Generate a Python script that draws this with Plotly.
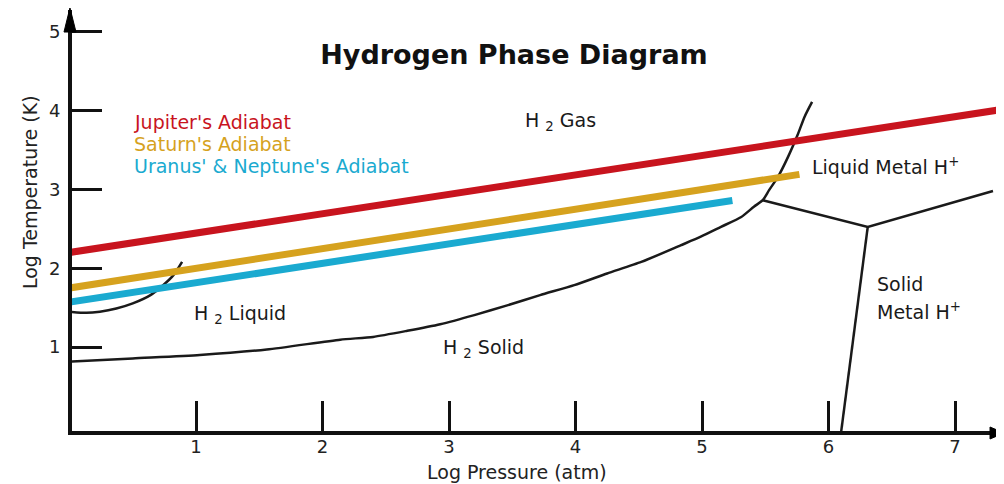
import plotly.graph_objects as go

# ---------------- data ----------------
# Planetary adiabats (log P [atm], log T [K])
jup_x = [0.0, 7.40]
jup_y = [2.20, 4.02]
sat_x = [0.0, 5.77]
sat_y = [1.75, 3.19]
ura_x = [0.0, 5.24]
ura_y = [1.57, 2.86]

adiabat_names = ["Jupiter's Adiabat", "Saturn's Adiabat", "Uranus' & Neptune's Adiabat"]
adiabat_colors = ["#C8141E", "#D6A21E", "#1AAAD0"]

# Liquid / gas boundary
vap_x = [0.0, 0.135, 0.24, 0.37, 0.50, 0.64, 0.74, 0.82, 0.89]
vap_y = [1.45, 1.435, 1.45, 1.49, 1.555, 1.66, 1.785, 1.91, 2.08]

# Solid boundary continuing into metallic transition
melt_x = [0.0, 0.50, 1.03, 1.56, 2.14, 2.40, 2.67, 2.93, 3.20, 3.46, 3.72, 3.99,
          4.25, 4.52, 4.83, 4.99, 5.15, 5.31, 5.41, 5.48, 5.53, 5.60, 5.68, 5.76, 5.81, 5.87]
melt_y = [0.815, 0.857, 0.90, 0.97, 1.095, 1.13, 1.207, 1.29, 1.406, 1.53, 1.66, 1.786,
          1.934, 2.08, 2.29, 2.40, 2.525, 2.65, 2.78, 2.863, 2.99, 3.158, 3.412, 3.708, 3.919, 4.109]

# Liquid metal / solid boundaries
metal_x = [5.48, 6.31, 7.30]
metal_y = [2.863, 2.525, 2.98]
solidmetal_x = [6.31, 6.10]
solidmetal_y = [2.525, -0.07]

# Region labels
region_text = ["H <sub>2</sub> Gas", "H <sub>2</sub> Liquid", "H <sub>2</sub> Solid",
               "Liquid Metal H<sup>+</sup>"]
region_x = [3.88, 1.35, 3.27, 6.45]
region_y = [3.86, 1.41, 0.98, 3.30]
solid_text = ["Solid", "Metal H<sup>+</sup>"]
solid_x = [6.37, 6.37]
solid_y = [1.80, 1.46]

legend_x = 0.496
legend_y = [3.852, 3.573, 3.294]

x_ticks = [1, 2, 3, 4, 5, 6, 7]
y_ticks = [1, 2, 3, 4, 5]

FONT = "DejaVu Sans"

# ---------------- figure ----------------
fig = go.Figure()

black = dict(color="#1a1a1a", width=2.5)
fig.add_trace(go.Scatter(x=vap_x, y=vap_y, mode="lines", line=dict(shape="spline", smoothing=0.8, **black),
                         showlegend=False, hoverinfo="skip"))
fig.add_trace(go.Scatter(x=melt_x, y=melt_y, mode="lines", line=dict(shape="spline", smoothing=0.6, **black),
                         showlegend=False, hoverinfo="skip"))
fig.add_trace(go.Scatter(x=metal_x, y=metal_y, mode="lines", line=black, showlegend=False, hoverinfo="skip"))
fig.add_trace(go.Scatter(x=solidmetal_x, y=solidmetal_y, mode="lines", line=black, showlegend=False,
                         hoverinfo="skip"))

for xs, ys, name, col in zip([jup_x, sat_x, ura_x], [jup_y, sat_y, ura_y],
                             adiabat_names, adiabat_colors):
    fig.add_trace(go.Scatter(x=xs, y=ys, mode="lines", name=name, line=dict(color=col, width=7),
                             showlegend=False))

annotations = []
for name, col, yy in zip(adiabat_names, adiabat_colors, legend_y):
    annotations.append(dict(x=legend_x, y=yy, xref="x", yref="y", text=name, showarrow=False,
                            xanchor="left", yanchor="middle", font=dict(family=FONT, size=19, color=col)))
for t, xx, yy in zip(region_text, region_x, region_y):
    annotations.append(dict(x=xx, y=yy, xref="x", yref="y", text=t, showarrow=False,
                            xanchor="center", yanchor="middle", font=dict(family=FONT, size=19, color="#1a1a1a")))
for t, xx, yy in zip(solid_text, solid_x, solid_y):
    annotations.append(dict(x=xx, y=yy, xref="x", yref="y", text=t, showarrow=False,
                            xanchor="left", yanchor="middle", font=dict(family=FONT, size=19, color="#1a1a1a")))

# axis titles
annotations.append(dict(x=0.4775, y=-0.0974, xref="paper", yref="paper", text="Log Pressure (atm)",
                        showarrow=False, xanchor="center", yanchor="middle",
                        font=dict(family=FONT, size=19, color="#222")))
annotations.append(dict(x=-0.045, y=0.5677, xref="paper", yref="paper", text="Log Temperature (K)",
                        showarrow=False, xanchor="center", yanchor="middle", textangle=-90,
                        font=dict(family=FONT, size=19, color="#222")))

# axis arrowheads (paper coordinates)
shapes = [
    dict(type="path", xref="paper", yref="paper",
         path="M -0.0022,1.005 L -0.0086,0.9477 L 0.0043,0.9477 Z",
         fillcolor="black", line=dict(color="black", width=1)),
    dict(type="path", xref="paper", yref="paper",
         path="M 1.0,-0.0048 L 0.985,0.0095 L 0.985,-0.019 Z",
         fillcolor="black", line=dict(color="black", width=1)),
]

# the page places the figure 8 px in from the top-left corner, so the figure is 8 px smaller
fig.update_layout(
    width=996, height=476,
    margin=dict(l=64, r=0, t=2, b=53, autoexpand=False),
    paper_bgcolor="white", plot_bgcolor="white",
    title=dict(text="<b>Hydrogen Phase Diagram</b>", x=0.508, xref="container", xanchor="center",
               y=0.9023, yref="container", yanchor="middle",
               font=dict(family=FONT, size=27, color="#111")),
    annotations=annotations,
    shapes=shapes,
    showlegend=False,
)
fig.update_xaxes(range=[0.0198, 7.387], tickvals=x_ticks, ticks="inside", ticklen=30, tickwidth=3.2,
                 tickcolor="#111", showline=True, linewidth=4, linecolor="#111", showgrid=False,
                 zeroline=False, automargin=False, ticklabelstandoff=-4,
                 tickfont=dict(family=FONT, size=18, color="#222"))
fig.update_yaxes(range=[-0.063, 5.274], tickvals=y_ticks, ticks="inside", ticklen=30, tickwidth=3.2,
                 tickcolor="#111", showline=True, linewidth=4, linecolor="#111", showgrid=False,
                 zeroline=False, automargin=False, ticklabelstandoff=4,
                 tickfont=dict(family=FONT, size=18, color="#222"))

fig.write_html("out.html")
